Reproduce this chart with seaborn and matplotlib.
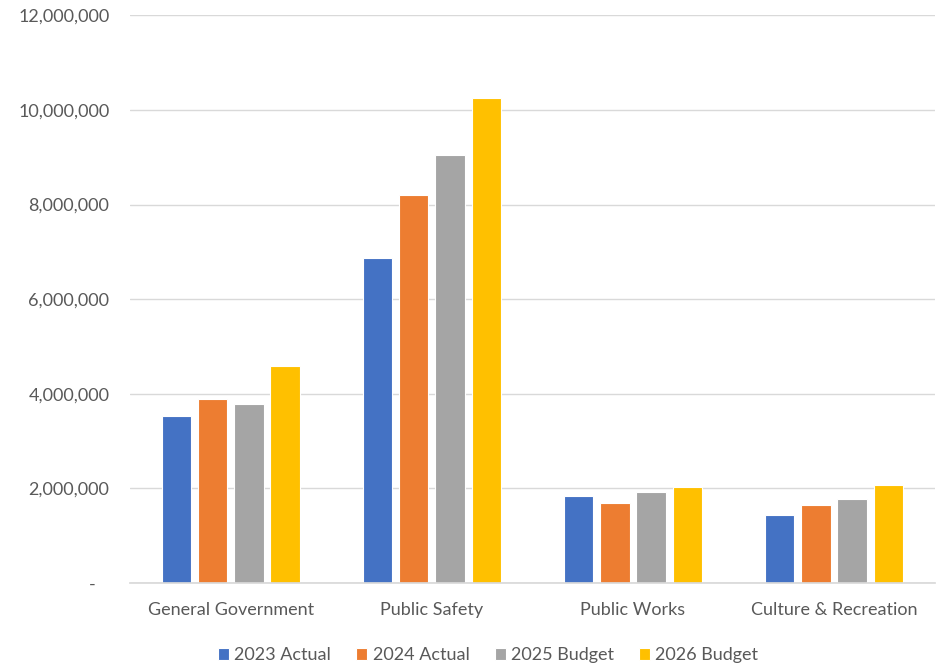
import pandas as pd
import matplotlib.pyplot as plt
import seaborn as sns
from matplotlib.ticker import FuncFormatter

# Data
categories = ["General Government", "Public Safety", "Public Works", "Culture & Recreation"]
series = ["2023 Actual", "2024 Actual", "2025 Budget", "2026 Budget"]
actual_2023 = [3530000, 6860000, 1840000, 1440000]
actual_2024 = [3900000, 8200000, 1700000, 1650000]
budget_2025 = [3790000, 9040000, 1920000, 1770000]
budget_2026 = [4580000, 10260000, 2030000, 2070000]
colors = ["#4472C4", "#ED7D31", "#A5A5A5", "#FFC000"]

rows = []
for name, vals in zip(series, [actual_2023, actual_2024, budget_2025, budget_2026]):
    for cat, v in zip(categories, vals):
        rows.append({"category": cat, "series": name, "value": v})
df = pd.DataFrame(rows)

sns.set_theme(style="white")
plt.rcParams['font.family'] = ['Lato', 'DejaVu Sans']

fig = plt.figure(figsize=(9.44, 6.66), dpi=100)
ax = fig.add_axes([0.138, 0.1246, 0.852, 0.8524])

sns.barplot(data=df, x="category", y="value", hue="series", order=categories,
            hue_order=series, palette=colors, saturation=1, width=0.72, gap=0.19,
            edgecolor="white", linewidth=0.8, ax=ax)

ax.set_ylim(0, 12000000)
ax.set_yticks(range(0, 12000001, 2000000))
ax.yaxis.set_major_formatter(FuncFormatter(lambda v, p: "-   " if v == 0 else f"{int(v):,}"))
ax.grid(axis="y", color="#D9D9D9", linewidth=1)
ax.set_axisbelow(True)
for s in ["top", "right", "left"]:
    ax.spines[s].set_visible(False)
ax.spines["bottom"].set_color("#D9D9D9")
ax.tick_params(axis="both", length=0, labelsize=13, labelcolor="#595959")
ax.tick_params(axis="y", pad=15)
ax.tick_params(axis="x", pad=14)
ax.set_xlabel("")
ax.set_ylabel("")

ax.legend(loc="lower center", bbox_to_anchor=(0.445, -0.17), ncol=4, frameon=False,
          fontsize=13, handlelength=0.6, handleheight=0.6, handletextpad=0.3,
          columnspacing=1.4, labelcolor="#595959")

plt.savefig("out.png", dpi=100)
plt.close()
